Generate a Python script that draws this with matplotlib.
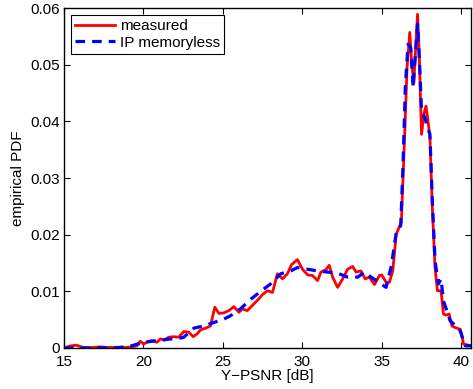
import numpy as np
import matplotlib
matplotlib.use("Agg")
import matplotlib.pyplot as plt

plt.rcParams['font.family'] = ['Liberation Sans', 'DejaVu Sans']

# measured PDF
meas_x = [15.0, 15.38, 15.76, 16.22, 16.85, 17.27, 17.69, 18.33, 18.96, 19.27, 19.59, 19.80,
          20.01, 20.26, 20.54, 20.85, 21.06, 21.32, 21.59, 21.91, 22.22, 22.54, 22.85, 23.13,
          23.38, 23.59, 23.91, 24.22, 24.49, 24.75, 25.06, 25.38, 25.69, 26.01, 26.22, 26.54,
          26.85, 27.17, 27.48, 27.80, 28.12, 28.43, 28.75, 29.06, 29.32, 29.69, 30.01, 30.33,
          30.64, 30.96, 31.17, 31.48, 31.69, 31.91, 32.22, 32.54, 32.85, 33.17, 33.38, 33.69,
          33.95, 34.22, 34.54, 34.85, 35.0, 35.27, 35.48, 35.69, 35.91, 36.23, 36.44, 36.59,
          36.76, 36.86, 37.01, 37.12, 37.25, 37.35, 37.50, 37.65, 37.78, 37.88, 38.03, 38.18,
          38.35, 38.50, 38.73, 38.88, 39.05, 39.24, 39.41, 39.62, 39.94, 40.15, 40.6]
meas_y = [0.0, 0.00035, 0.0005, 0.0001, 0.0001, 0.0002, 0.0001, 0.0001, 0.0001, 0.0002, 0.0004, 0.0012,
          0.0007, 0.0011, 0.0013, 0.0010, 0.0016, 0.0014, 0.0019, 0.0020, 0.0019, 0.0029, 0.0028, 0.0020,
          0.0025, 0.0032, 0.0035, 0.0039, 0.0072, 0.0061, 0.0062, 0.0066, 0.0073, 0.0063, 0.0069, 0.0066,
          0.0075, 0.0084, 0.0094, 0.0101, 0.0098, 0.0131, 0.0122, 0.0131, 0.0147, 0.0156, 0.0139, 0.0129,
          0.0128, 0.0119, 0.0134, 0.0138, 0.0146, 0.0125, 0.0107, 0.0122, 0.0139, 0.0144, 0.0134, 0.0136,
          0.0122, 0.0125, 0.0112, 0.0128, 0.0129, 0.0116, 0.0116, 0.0136, 0.0201, 0.0222, 0.0377, 0.0495,
          0.0557, 0.0513, 0.0466, 0.0524, 0.0589, 0.0524, 0.0377, 0.0413, 0.0427, 0.0407, 0.0371, 0.0248,
          0.0142, 0.0101, 0.0101, 0.0060, 0.0058, 0.0060, 0.0039, 0.0036, 0.0033, 0.0007, 0.0004]

# IP memoryless model
ip_x = [15.0, 16.85, 18.5, 19.27, 20.0, 20.85, 21.7, 22.1, 22.54, 23.17, 23.8, 24.43,
        25.06, 25.48, 26.1, 26.75, 27.38, 28.0, 28.64, 29.27, 29.69, 30.33, 30.96, 31.58,
        32.22, 32.85, 33.48, 33.9, 34.33, 34.96, 35.27, 35.6, 35.91, 36.19, 36.33, 36.48,
        36.65, 36.82, 36.97, 37.12, 37.25, 37.39, 37.5, 37.7, 37.88, 38.03, 38.18, 38.35,
        38.56, 38.73, 38.88, 39.09, 39.3, 39.62, 39.94, 40.25, 40.6]
ip_y = [0.0, 0.0, 0.0001, 0.0004, 0.0010, 0.0013, 0.0016, 0.0016, 0.0019, 0.0035, 0.0039, 0.0045,
        0.0051, 0.0057, 0.0069, 0.0086, 0.0100, 0.0113, 0.0131, 0.0136, 0.0142, 0.0139, 0.0136, 0.0134,
        0.0132, 0.0125, 0.0125, 0.0134, 0.0125, 0.0113, 0.0107, 0.0145, 0.0204, 0.0216, 0.0318, 0.0460,
        0.0536, 0.0530, 0.0460, 0.0520, 0.0572, 0.0495, 0.0419, 0.0407, 0.0390, 0.0377, 0.0260, 0.0154,
        0.0113, 0.0122, 0.0083, 0.0066, 0.0048, 0.0040, 0.0030, 0.0004, 0.0004]

xticks = [15, 20, 25, 30, 35, 40]
yticks = [0, 0.01, 0.02, 0.03, 0.04, 0.05, 0.06]
ytick_labels = ["0", "0.01", "0.02", "0.03", "0.04", "0.05", "0.06"]

fig = plt.figure(figsize=(4.73, 3.89), dpi=100)
ax = fig.add_axes([0.1353, 0.1054, 0.860, 0.874])

ax.plot(meas_x, meas_y, color='red', lw=2, label='measured')
ax.plot(ip_x, ip_y, color='blue', lw=2.3, ls=(0, (3, 2.2)), label='IP memoryless')

ax.set_xlim(15, 40.6)
ax.set_ylim(0, 0.06)
ax.set_xticks(xticks)
ax.set_yticks(yticks)
ax.set_yticklabels(ytick_labels)
ax.tick_params(direction='in', top=True, right=True, labelsize=11, length=4)
ax.tick_params(axis='x', pad=5)
ax.tick_params(axis='y', pad=3)
for s in ax.spines.values():
    s.set_linewidth(1)

ax.set_xlabel('Y\u2212PSNR [dB]', fontsize=11, labelpad=0)
ax.set_ylabel('empirical PDF', fontsize=11, labelpad=4)

leg = ax.legend(loc='upper left', fontsize=11, fancybox=False, framealpha=1,
                edgecolor='black', borderaxespad=0.45, handlelength=2.6,
                borderpad=0.3, labelspacing=0.15, handletextpad=0.3)
leg.get_frame().set_linewidth(0.8)

fig.savefig('out.png', dpi=100)
